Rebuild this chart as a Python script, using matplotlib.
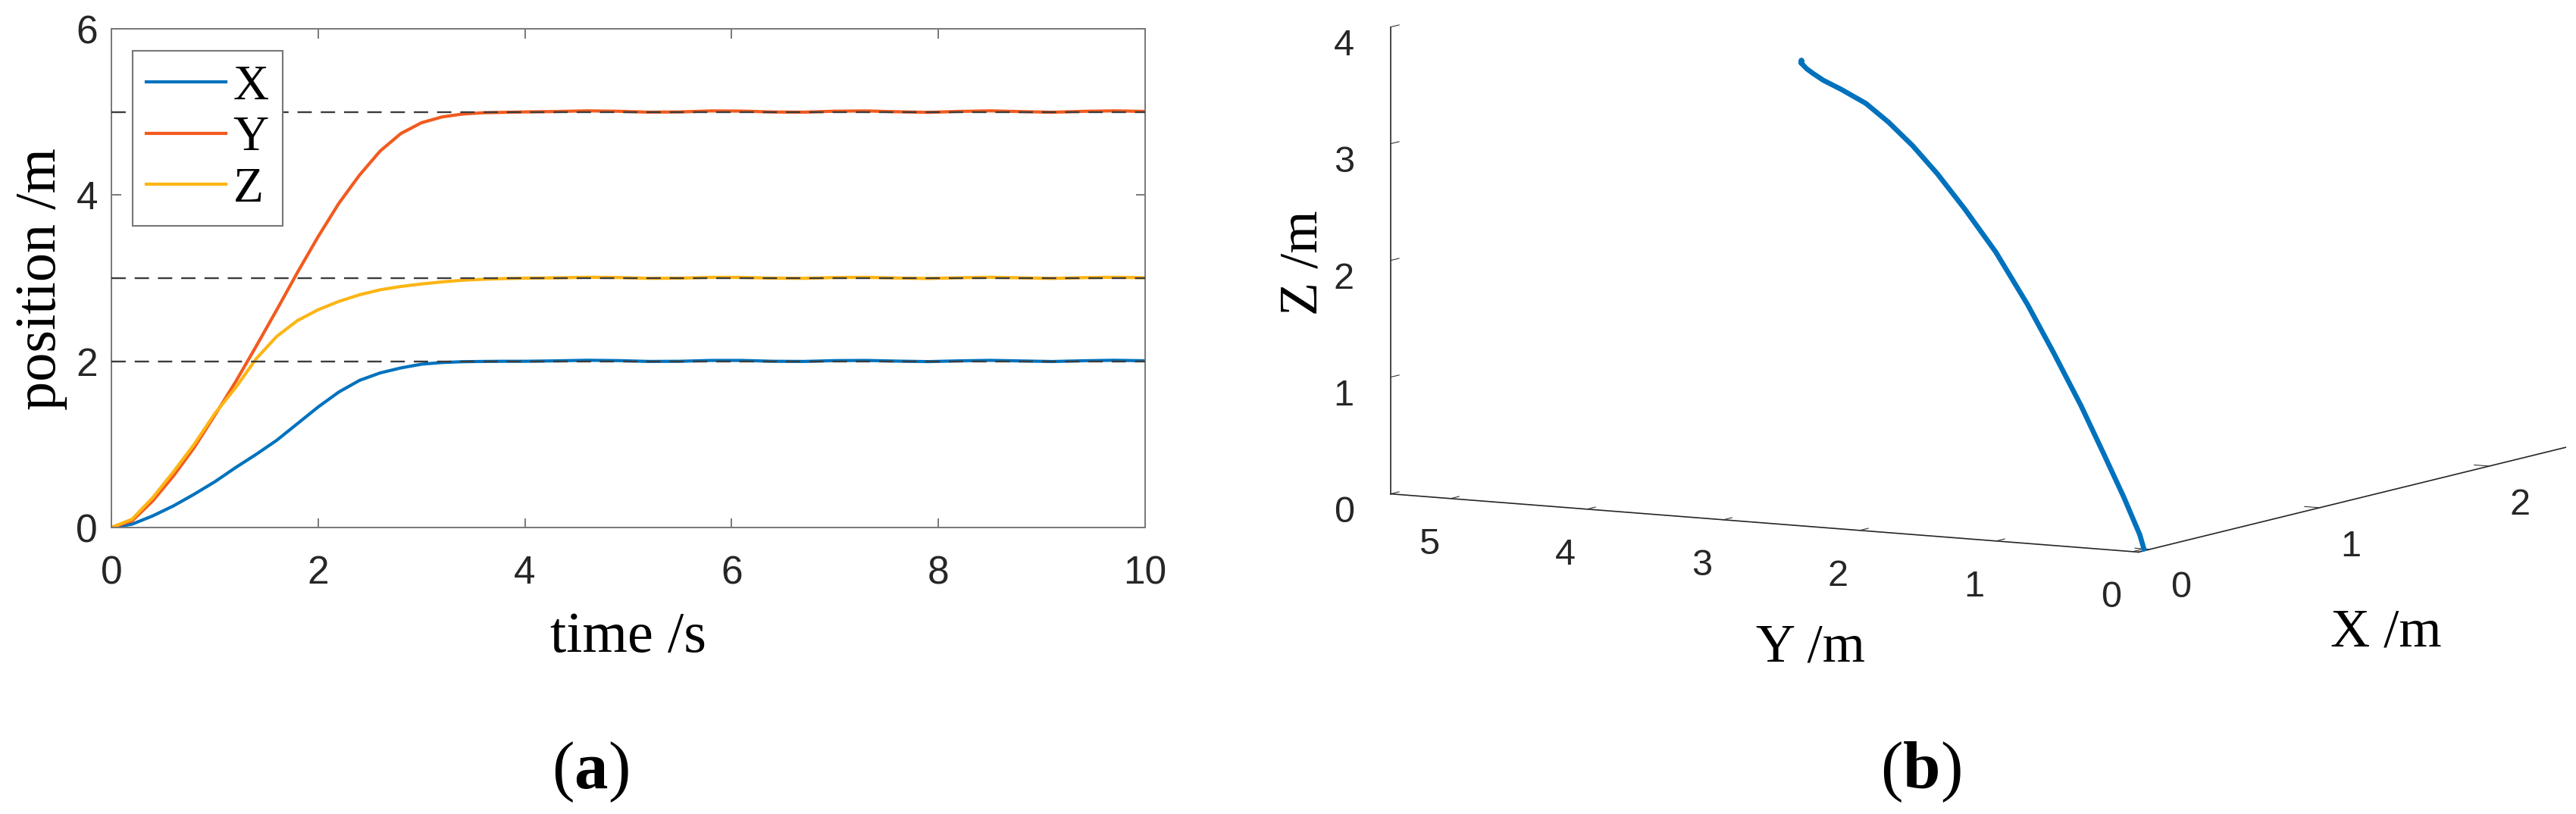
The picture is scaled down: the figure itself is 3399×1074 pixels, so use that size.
import matplotlib
matplotlib.use('Agg')
import matplotlib.pyplot as plt

plt.rcParams['font.family'] = 'Liberation Sans'
plt.rcParams['mathtext.fontset'] = 'custom'
plt.rcParams['mathtext.rm'] = 'Liberation Serif'
plt.rcParams['mathtext.bf'] = 'Liberation Serif:bold'
SERIF = 'Liberation Serif'

###############################################################################
# data
###############################################################################

t = [0, 0.2, 0.4, 0.6, 0.8, 1.0, 1.2, 1.4, 1.6, 1.8, 2.0, 2.2, 2.4, 2.6, 2.8,
     3.0, 3.2, 3.4, 3.6, 3.8, 4.0, 4.3, 4.6, 4.9, 5.2, 5.5, 5.8, 6.1, 6.4,
     6.7, 7.0, 7.3, 7.6, 7.9, 8.2, 8.5, 8.8, 9.1, 9.4, 9.7, 10.0]

pos_x = [0, 0.04, 0.14, 0.26, 0.40, 0.55, 0.72, 0.88, 1.05, 1.25, 1.45, 1.63,
         1.77, 1.86, 1.92, 1.965, 1.985, 1.995, 1.998, 2.0, 2.0,
         2.005, 2.012, 2.008, 1.998, 2.0, 2.01, 2.01, 2.0, 1.998, 2.008,
         2.01, 2.002, 1.996, 2.005, 2.011, 2.004, 1.997, 2.006, 2.012, 2.006]

pos_y = [0, 0.08, 0.32, 0.62, 0.96, 1.35, 1.75, 2.18, 2.62, 3.07, 3.5, 3.9,
         4.24, 4.53, 4.74, 4.87, 4.94, 4.975, 4.99, 4.995, 5.0,
         5.005, 5.013, 5.008, 4.997, 5.0, 5.012, 5.01, 4.999, 4.997, 5.009,
         5.012, 5.002, 4.995, 5.006, 5.013, 5.004, 4.996, 5.007, 5.013, 5.006]

pos_z = [0, 0.1, 0.36, 0.67, 1.0, 1.37, 1.68, 2.03, 2.3, 2.49, 2.62, 2.72,
         2.8, 2.86, 2.9, 2.93, 2.955, 2.975, 2.987, 2.995, 3.0,
         3.004, 3.011, 3.008, 2.998, 3.0, 3.01, 3.009, 3.0, 2.998, 3.008,
         3.01, 3.002, 2.996, 3.005, 3.011, 3.004, 2.997, 3.006, 3.011, 3.005]

targets = [2, 3, 5]
names = ['X', 'Y', 'Z']

t_ticks = [0, 2, 4, 6, 8, 10]
p_ticks = [0, 2, 4, 6]
ticks3d_x = [0, 1, 2]
ticks3d_y = [0, 1, 2, 3, 4, 5]
ticks3d_z = [0, 1, 2, 3, 4]

colors = ['#0072BD', '#F25A1E', '#FDB515']

W, H = 3399, 1074
fig = plt.figure(figsize=(W / 100, H / 100), dpi=100)

###############################################################################
# (a) position vs time
###############################################################################

ax = fig.add_axes([147 / W, 1 - 696 / H, 1364 / W, 658 / H])
for vals, name, c in zip([pos_x, pos_y, pos_z], names, colors):
    ax.plot(t, vals, color=c, lw=3, label=name, solid_joinstyle='round')
for v in targets:
    ax.axhline(v, color='#3c3c3c', lw=1.7, dashes=(8, 5), zorder=3)

ax.set_xlim(0, 10)
ax.set_ylim(0, 6)
ax.set_xticks(t_ticks)
ax.set_yticks(p_ticks)
ax.tick_params(direction='in', length=9, width=1.1, top=True, right=True,
               labelsize=37, color='#555555', labelcolor='#262626')
ax.tick_params(axis='x', pad=26)
ax.tick_params(axis='y', pad=13)
for s in ax.spines.values():
    s.set_color('#777777')
    s.set_linewidth(1.4)

ax.set_xlabel('time /s', family=SERIF, size=55, va='baseline')
ax.xaxis.set_label_coords(0.5, -(860 - 696) / 658)
ax.set_ylabel('position /m', family=SERIF, size=55, va='baseline')
ax.yaxis.set_label_coords(-(147 - 73) / 1364, (696 - 368) / 658)

leg = ax.legend(loc='upper left', bbox_to_anchor=(28 / 1364, (696 - 67) / 658),
                borderaxespad=0, prop={'family': SERIF, 'size': 47},
                handlelength=1.6, handletextpad=0.15, labelspacing=0.12,
                borderpad=0.28, fancybox=False, edgecolor='#777777',
                framealpha=1)
leg.get_frame().set_linewidth(1.5)

###############################################################################
# (b) 3D trajectory
###############################################################################

S = 1678  # side of the 3d axes square in pixels
ax3 = fig.add_axes([(2610 - 0.5135 * S) / W, (761 - 0.5135 * S) / H, S / W, S / H],
                   projection='3d')
ax3.set_facecolor((1, 1, 1, 0))
ax3.set_proj_type('ortho')
ax3.view_init(elev=7.94, azim=-150.6)
ax3.plot(pos_x, pos_y, pos_z, color=colors[0], lw=4.8, solid_joinstyle='round')

ax3.set_xlim(-0.067, 2.45)
ax3.set_ylim(-0.044, 5.44)
ax3.set_zlim(0, 4)
ax3.set_box_aspect((1148, 1133, 622), zoom=1.0)
ax3.set_xticks(ticks3d_x)
ax3.set_yticks(ticks3d_y)
ax3.set_zticks(ticks3d_z)
ax3.grid(False)
ax3.tick_params(labelsize=35, color='#333333', labelcolor='#262626')
ax3.tick_params(axis='x', pad=18)
ax3.tick_params(axis='y', pad=24)
ax3.tick_params(axis='z', pad=17)
for a in (ax3.xaxis, ax3.yaxis, ax3.zaxis):
    a.set_pane_color((1, 1, 1, 0))
    a.line.set_color('#262626')
    a.line.set_linewidth(1.2)
    a._axinfo['tick']['inward_factor'] = 0.0
    a._axinfo['tick']['outward_factor'] = 0.25

fig.text(2389 / W, 1 - 872 / H, 'Y /m', family=SERIF, size=52,
         ha='center', va='baseline')
fig.text(3148 / W, 1 - 853 / H, 'X /m', family=SERIF, size=52,
         ha='center', va='baseline')
fig.text(1737 / W, 1 - 347 / H, 'Z /m', family=SERIF, size=52,
         ha='center', va='baseline', rotation=90, rotation_mode='anchor')

fig.text(779 / W, 1 - 1040 / H, r'($\mathbf{a}$)', family=SERIF, size=64,
         ha='center', va='baseline')
fig.text(2534 / W, 1 - 1040 / H, r'($\mathbf{b}$)', family=SERIF, size=64,
         ha='center', va='baseline')

fig.savefig('out.png', dpi=100)
